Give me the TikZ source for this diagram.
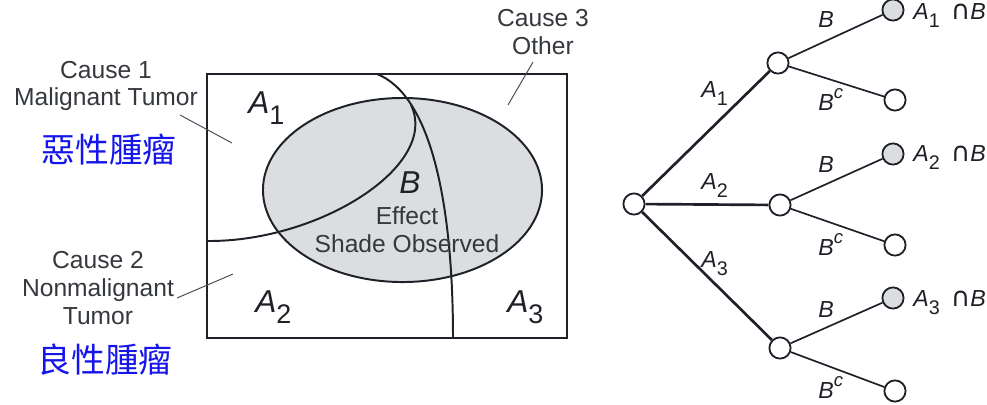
\documentclass[tikz,border=0pt]{standalone}
\usepackage{fontspec}
\setmainfont{Liberation Sans}
\newfontfamily\cjkfont{Noto Sans CJK TC}
\newfontfamily\symfont{DejaVu Sans}
\usepackage{graphicx}
\usetikzlibrary{positioning}
\usepackage{xcolor}
\definecolor{ink}{RGB}{30,34,40}
\definecolor{shade}{RGB}{220,221,223}
\definecolor{zhblue}{RGB}{20,20,235}
\newcommand\lowidx[1]{\raisebox{-0.7ex}{\scalebox{0.85}{#1}}}
\newcommand\upidx[1]{\raisebox{0.9ex}{\scalebox{0.8}{#1}}}
\newcommand\capsym{{\upshape\symfont\scalebox{1.15}{∩}}}

\begin{document}
\begin{tikzpicture}[x=0.025cm, y=-0.025cm,
  cause/.style={font=\fontsize{17.5}{19.7}\selectfont, text=ink!90, align=center, inner sep=0pt},
  zh/.style={font=\fontsize{24}{26}\selectfont\cjkfont, text=zhblue, inner sep=0pt},
  region/.style={font=\fontsize{22.5}{24}\selectfont\itshape, text=ink, inner sep=0pt, anchor=base west},
  lead/.style={draw=ink!80, line width=0.7pt},
  bound/.style={draw=ink, line width=1.4pt},
  dot/.style={circle, draw=ink, line width=1.3pt, fill=white, minimum size=0.53cm, inner sep=0pt},
  hit/.style={dot, fill=shade},
  trunk/.style={draw=ink, line width=1.9pt},
  twig/.style={draw=ink, line width=1.2pt},
  lbl/.style={font=\fontsize{16.5}{18}\selectfont\itshape, text=ink, inner sep=0pt, anchor=base west}
]
\useasboundingbox (0,0) rectangle (987,404);

\draw[bound] (207,74) rectangle (567,338);
\filldraw[bound, fill=shade] (402.5,190) ellipse [x radius=3.4875cm, y radius=2.3cm];
\draw[bound] (377,74) .. controls (430,95) and (453,200) .. (453,338);
\draw[bound] (207,241) .. controls (320,242) and (440,165) .. (411,105);

\node[cause] (cause1) at (106,86) {Cause 1\\Malignant Tumor};
\node[cause] (cause2) at (98,288) {Cause 2\\Nonmalignant\\Tumor};
\node[cause] (cause3) at (543,32) {Cause 3\\Other};
\node[zh] (zh1) at (109,150) {惡性腫瘤};
\node[zh] (zh2) at (105,360) {良性腫瘤};

\coordinate (c1a) at (180,115);
\coordinate (c1b) at (232,143);
\coordinate (c2a) at (177,298);
\coordinate (c2b) at (233,274);
\coordinate (c3a) at (533,62);
\coordinate (c3b) at (508,105);
\draw[lead] (c1a) -- (c1b);
\draw[lead] (c2a) -- (c2b);
\draw[lead] (c3a) -- (c3b);

\node[region] (rA1) at (248,113) {A\lowidx{\upshape 1}};
\node[region] (rA2) at (255,312) {A\lowidx{\upshape 2}};
\node[region] (rA3) at (507,312) {A\lowidx{\upshape 3}};
\node[region] (rB) at (399,193) {B};
\node[cause] (effect) at (407,230) {Effect\\Shade Observed};

\node[dot] (root) at (634,204) {};
\node[dot] (a1) at (778,63) {};
\node[dot] (a2) at (780,205) {};
\node[dot] (a3) at (780,348) {};
\node[hit] (a1b) at (893,10) {};
\node[dot] (a1c) at (895,100) {};
\node[hit] (a2b) at (893,154) {};
\node[dot] (a2c) at (895,245) {};
\node[hit] (a3b) at (893,298) {};
\node[dot] (a3c) at (895,391) {};

\draw[trunk] (root) -- (a1);
\draw[trunk] (root) -- (a2);
\draw[trunk] (root) -- (a3);
\draw[twig] (a1) -- (a1b);
\draw[twig] (a1) -- (a1c);
\draw[twig] (a2) -- (a2b);
\draw[twig] (a2) -- (a2c);
\draw[twig] (a3) -- (a3b);
\draw[twig] (a3) -- (a3c);

\node[lbl] (tA1) at (701,97) {A\lowidx{\upshape 1}};
\node[lbl] (tA2) at (701,189) {A\lowidx{\upshape 2}};
\node[lbl] (tA3) at (701,267) {A\lowidx{\upshape 3}};
\node[lbl] (tB1) at (818,27) {B};
\node[lbl] (tB2) at (818,172) {B};
\node[lbl] (tB3) at (818,317) {B};
\node[lbl] (tC1) at (818,110) {B\upidx{c}};
\node[lbl] (tC2) at (818,255) {B\upidx{c}};
\node[lbl] (tC3) at (818,398) {B\upidx{c}};
\node[lbl] (out1) at (913,19) {A\lowidx{\upshape 1}\hspace{0.2em} \capsym B};
\node[lbl] (out2) at (913,161) {A\lowidx{\upshape 2}\hspace{0.2em} \capsym B};
\node[lbl] (out3) at (913,306) {A\lowidx{\upshape 3}\hspace{0.2em} \capsym B};
\end{tikzpicture}
\end{document}
